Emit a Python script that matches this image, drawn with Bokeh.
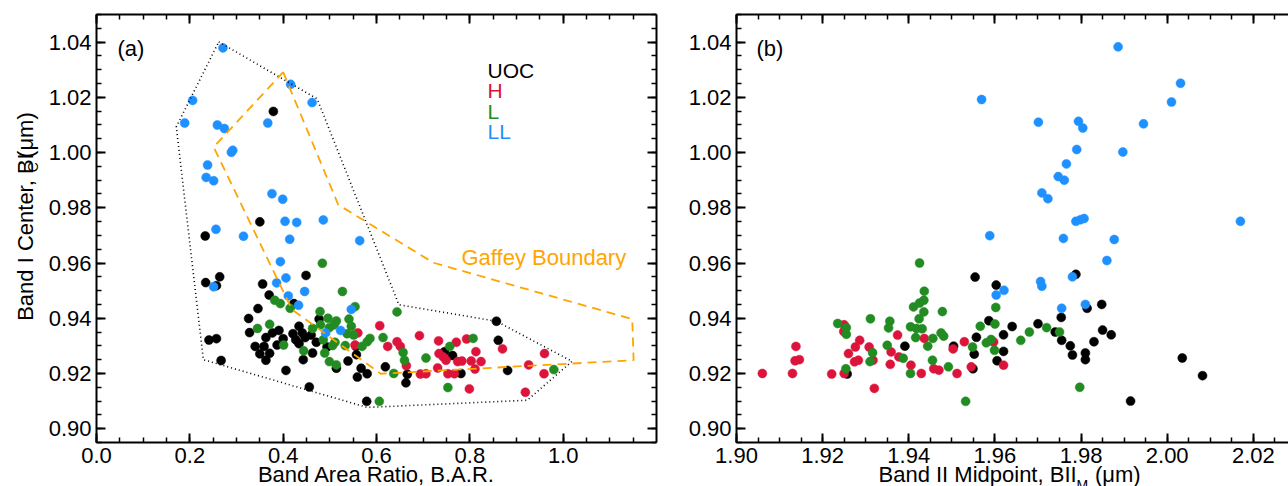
import math
from bokeh.plotting import figure
from bokeh.models import Range1d, LinearAxis, SingleIntervalTicker, PrintfTickFormatter, Label, Title
from bokeh.layouts import row
from bokeh.embed import file_html
from bokeh.resources import INLINE

FONT = "Liberation Sans"
C_UOC, C_H, C_L, C_LL = "#000000", "#DC143C", "#228B22", "#1E90FF"
C_GAFFEY = "#FFA500"

# ---------------- Panel (a): Band Area Ratio vs Band I Center ----------------
a_uoc_bar = [0.379, 0.350, 0.233, 0.264, 0.234, 0.257, 0.449, 0.356, 0.370, 0.346,
             0.326, 0.328, 0.241, 0.257, 0.267, 0.406, 0.456, 0.579, 0.363, 0.377,
             0.391, 0.400, 0.387, 0.340, 0.359, 0.350, 0.371, 0.363, 0.421, 0.434,
             0.441, 0.427, 0.447, 0.434, 0.460, 0.471, 0.463, 0.443, 0.477, 0.494,
             0.514, 0.539, 0.556, 0.557, 0.567, 0.559, 0.580, 0.619, 0.666, 0.663,
             0.423, 0.857, 0.861, 0.881, 0.746, 0.763, 0.781]
a_uoc_bic = [1.0149, 0.9749, 0.9698, 0.9550, 0.9529, 0.9518, 0.9555, 0.9524, 0.9484, 0.9435,
             0.9399, 0.9348, 0.9321, 0.9326, 0.9247, 0.9211, 0.9151, 0.9099, 0.9330, 0.9347,
             0.9356, 0.9326, 0.9303, 0.9298, 0.9298, 0.9271, 0.9273, 0.9248, 0.9344, 0.9371,
             0.9347, 0.9322, 0.9330, 0.9308, 0.9339, 0.9313, 0.9274, 0.9250, 0.9397, 0.9296,
             0.9219, 0.9245, 0.9298, 0.9268, 0.9219, 0.9187, 0.9199, 0.9224, 0.9197, 0.9166,
             0.9453, 0.9389, 0.9320, 0.9211, 0.9279, 0.9265, 0.9200]

a_h_bar = [0.607, 0.692, 0.560, 0.554, 0.624, 0.644, 0.651, 0.664, 0.694, 0.706,
           0.733, 0.771, 0.793, 0.870, 0.960, 0.813, 0.734, 0.743, 0.749, 0.774,
           0.783, 0.803, 0.824, 0.731, 0.753, 0.767, 0.811, 0.926, 0.959, 0.799,
           0.919]
a_h_bic = [0.9373, 0.9337, 0.9347, 0.9303, 0.9298, 0.9315, 0.9298, 0.9228, 0.9198, 0.9199,
           0.9318, 0.9313, 0.9325, 0.9289, 0.9272, 0.9279, 0.9272, 0.9260, 0.9248, 0.9243,
           0.9245, 0.9245, 0.9243, 0.9220, 0.9199, 0.9199, 0.9216, 0.9231, 0.9199, 0.9144,
           0.9132]

a_l_bar = [0.484, 0.527, 0.554, 0.644, 0.382, 0.394, 0.415, 0.345, 0.371, 0.479,
           0.496, 0.514, 0.541, 0.463, 0.480, 0.499, 0.509, 0.546, 0.537, 0.551,
           0.486, 0.401, 0.444, 0.506, 0.511, 0.533, 0.489, 0.569, 0.580, 0.586,
           0.614, 0.499, 0.514, 0.657, 0.660, 0.706, 0.637, 0.606, 0.807, 0.757,
           0.980, 0.753]
a_l_bic = [0.9599, 0.9497, 0.9442, 0.9423, 0.9465, 0.9453, 0.9436, 0.9363, 0.9378, 0.9424,
           0.9400, 0.9390, 0.9397, 0.9363, 0.9376, 0.9366, 0.9376, 0.9371, 0.9344, 0.9339,
           0.9322, 0.9303, 0.9282, 0.9301, 0.9313, 0.9301, 0.9274, 0.9298, 0.9315, 0.9327,
           0.9330, 0.9243, 0.9231, 0.9276, 0.9248, 0.9256, 0.9200, 0.9099, 0.9327, 0.9298,
           0.9214, 0.9149]

a_ll_bar = [0.271, 0.206, 0.189, 0.259, 0.274, 0.367, 0.416, 0.462, 0.289, 0.292,
            0.238, 0.235, 0.251, 0.376, 0.399, 0.404, 0.429, 0.486, 0.256, 0.315,
            0.414, 0.564, 0.394, 0.406, 0.251, 0.386, 0.446, 0.411, 0.433, 0.546,
            0.491, 0.523]
a_ll_bic = [1.0379, 1.0189, 1.0107, 1.0100, 1.0087, 1.0107, 1.0247, 1.0181, 1.0001, 1.0008,
            0.9955, 0.9910, 0.9898, 0.9851, 0.9831, 0.9751, 0.9747, 0.9756, 0.9722, 0.9697,
            0.9686, 0.9681, 0.9605, 0.9546, 0.9514, 0.9528, 0.9497, 0.9481, 0.9447, 0.9432,
            0.9347, 0.9356]

# outline of the ordinary-chondrite field (dotted) and the Gaffey boundary (dashed)
field_bar = [0.262, 0.473, 0.648, 0.857, 1.019, 0.923, 0.580, 0.229, 0.171, 0.262]
field_bic = [1.0401, 1.0194, 0.9449, 0.9389, 0.9244, 0.9103, 0.9077, 0.9250, 1.0093, 1.0401]
gaffey_bar = [0.400, 0.518, 0.722, 1.148, 1.151, 0.609, 0.419, 0.251, 0.400]
gaffey_bic = [1.0291, 0.9811, 0.9601, 0.9397, 0.9248, 0.9199, 0.9431, 1.0020, 1.0291]

# ---------------- Panel (b): Band II Midpoint vs Band I Center ----------------
b_uoc_b2 = [1.9391, 1.9257, 1.9504, 1.9554, 1.9557, 1.9552, 1.9549, 1.9586, 1.9603, 1.9605,
            1.9788, 1.9754, 1.9814, 1.9848, 1.9620, 1.9640, 1.9620, 1.9700, 1.9740, 1.9755,
            1.9775, 1.9780, 1.9810, 1.9810, 1.9830, 1.9850, 1.9870, 2.0035, 2.0082, 1.9915]
b_uoc_bic = [0.9299, 0.9198, 0.9299, 0.9549, 0.9331, 0.9270, 0.9217, 0.9391, 0.9520, 0.9246,
             0.9559, 0.9403, 0.9436, 0.9450, 0.9340, 0.9370, 0.9280, 0.9380, 0.9350, 0.9320,
             0.9300, 0.9267, 0.9274, 0.9250, 0.9315, 0.9357, 0.9340, 0.9256, 0.9192, 0.9100]

b_h_b2 = [1.9060, 1.9130, 1.9138, 1.9136, 1.9146, 1.9221, 1.9250, 1.9250, 1.9249, 1.9260,
          1.9276, 1.9286, 1.9274, 1.9283, 1.9308, 1.9317, 1.9320, 1.9359, 1.9357, 1.9374,
          1.9377, 1.9405, 1.9429, 1.9436, 1.9458, 1.9470, 1.9512, 1.9503, 1.9529, 1.9545,
          1.9597, 1.9620]
b_h_bic = [0.9200, 0.9200, 0.9298, 0.9246, 0.9250, 0.9198, 0.9200, 0.9376, 0.9352, 0.9272,
           0.9296, 0.9320, 0.9242, 0.9248, 0.9296, 0.9248, 0.9146, 0.9278, 0.9233, 0.9339,
           0.9260, 0.9230, 0.9200, 0.9327, 0.9217, 0.9212, 0.9200, 0.9289, 0.9315, 0.9224,
           0.9314, 0.9230]

b_l_b2 = [1.9235, 1.9255, 1.9255, 1.9254, 1.9311, 1.9316, 1.9310, 1.9356, 1.9353, 1.9350,
          1.9387, 1.9404, 1.9411, 1.9425, 1.9435, 1.9436, 1.9425, 1.9435, 1.9424, 1.9404,
          1.9418, 1.9431, 1.9416, 1.9444, 1.9456, 1.9455, 1.9478, 1.9475, 1.9481, 1.9492,
          1.9532, 1.9548, 1.9566, 1.9580, 1.9591, 1.9599, 1.9602, 1.9600, 1.9797, 1.9720,
          1.9750, 1.9660, 1.9680]
b_l_bic = [0.9381, 0.9366, 0.9342, 0.9217, 0.9398, 0.9275, 0.9243, 0.9389, 0.9365, 0.9302,
           0.9255, 0.9200, 0.9441, 0.9455, 0.9465, 0.9498, 0.9600, 0.9423, 0.9398, 0.9369,
           0.9363, 0.9362, 0.9330, 0.9299, 0.9327, 0.9248, 0.9424, 0.9347, 0.9335, 0.9224,
           0.9099, 0.9296, 0.9371, 0.9311, 0.9323, 0.9284, 0.9439, 0.9379, 0.9150, 0.9366,
           0.9350, 0.9320, 0.9350]

b_ll_b2 = [1.9886, 2.0031, 2.0010, 1.9569, 1.9701, 1.9794, 1.9804, 1.9945, 1.9790, 1.9897,
           1.9766, 1.9747, 1.9761, 1.9709, 1.9723, 1.9788, 1.9799, 1.9807, 2.0170, 1.9588,
           1.9759, 1.9877, 1.9860, 1.9706, 1.9709, 1.9780, 1.9621, 1.9603, 1.9755, 1.9810]
b_ll_bic = [1.0383, 1.0251, 1.0183, 1.0192, 1.0110, 1.0113, 1.0089, 1.0104, 1.0011, 1.0002,
            0.9959, 0.9913, 0.9900, 0.9854, 0.9833, 0.9751, 0.9757, 0.9761, 0.9751, 0.9699,
            0.9689, 0.9685, 0.9609, 0.9533, 0.9516, 0.9550, 0.9501, 0.9484, 0.9436, 0.9450]

legend_names = ["UOC", "H", "L", "LL"]
legend_colors = [C_UOC, C_H, C_L, C_LL]

# ---------------- layout geometry (pixels) ----------------
H = 486
YT_W = 40                    # left strip holding the rotated y-axis title
TOP, FRAME_H = 14, 428
YR = (0.895, 1.05)
A_W, A_LEFT, A_FRAME_W = 640, 56, 560       # frame starts at 40 + 56 = 96 on the page
B_W, B_LEFT, B_FRAME_W = 608, 56, 552       # page x 680 .. 1288
B_PX_PER_UNIT = 4307.0
B_XR = (1.90, 1.90 + B_FRAME_W / B_PX_PER_UNIT)
A_XR = (0.0, 1.2)
A_PAGE_LEFT = YT_W + A_LEFT
B_PAGE_X = YT_W + A_W
B_FRAME_PAGE_LEFT = B_PAGE_X + B_LEFT

AW = {' ': .278, '\u00a0': .278, 'B': .667, 'a': .556, 'n': .556, 'd': .556, 'I': .278,
      'C': .722, 'e': .556, 't': .278, 'r': .333, ',': .278, '(': .333, ')': .333,
      'μ': .576, 'm': .833, 'M': .833, 'i': .222, 'p': .556, 'o': .556}
MID = 0.3455                 # baseline-to-centre distance of Liberation Sans, in em


def tw(s, fs):
    return sum(AW.get(c, .556) for c in s) * fs


def ydata(py):
    return YR[1] - (py - TOP) / FRAME_H * (YR[1] - YR[0])


def xa(px):  # page px -> panel (a) data
    return A_XR[0] + (px - A_PAGE_LEFT) / A_FRAME_W * (A_XR[1] - A_XR[0])


def xb(px):  # page px -> panel (b) data
    return B_XR[0] + (px - B_FRAME_PAGE_LEFT) / B_PX_PER_UNIT


def style_axis(ax, interval, fmt=None, labels=True):
    ax.ticker = SingleIntervalTicker(interval=interval, num_minor_ticks=4)
    ax.axis_line_width = 2
    ax.axis_line_color = "black"
    ax.major_tick_in = 9
    ax.major_tick_out = 0
    ax.minor_tick_in = 5
    ax.minor_tick_out = 0
    ax.major_tick_line_width = 2
    ax.minor_tick_line_width = 1.5
    ax.axis_label = None
    if labels:
        ax.formatter = PrintfTickFormatter(format=fmt)
        ax.major_label_text_font = FONT
        ax.major_label_text_font_size = "22px"
        ax.major_label_text_color = "black"
        ax.major_label_standoff = 5
    else:
        ax.major_label_text_font_size = "0px"
        ax.major_label_text_color = None
        ax.major_label_standoff = 0


def make_fig(width, left, right, xr, xint, xfmt, right_axis):
    p = figure(width=width, height=H, x_range=Range1d(*xr), y_range=Range1d(*YR),
               output_backend="svg", toolbar_location=None,
               min_border_left=left, min_border_right=right,
               min_border_top=TOP, min_border_bottom=H - TOP - FRAME_H)
    p.outline_line_color = None
    p.xgrid.visible = False
    p.ygrid.visible = False
    p.background_fill_color = "white"
    p.border_fill_color = "white"
    style_axis(p.xaxis[0], xint, xfmt, True)
    style_axis(p.yaxis[0], 0.02, "%.2f", True)
    top = LinearAxis()
    style_axis(top, xint, labels=False)
    p.add_layout(top, "above")
    if right_axis:
        r = LinearAxis()
        style_axis(r, 0.02, labels=False)
        p.add_layout(r, "right")
    return p


def text_strip(w, h):
    """A bare figure whose whole area is its frame; 1 data unit = 1 px, y measured up."""
    p = figure(width=w, height=h, x_range=Range1d(0, w), y_range=Range1d(0, h),
               x_axis_location=None, y_axis_location=None, output_backend="svg",
               toolbar_location=None, min_border=0)
    p.outline_line_color = None
    p.grid.visible = False
    p.background_fill_color = "white"
    p.border_fill_color = "white"
    return p


def lbl(p, x, y, text, fs, color="black", align="left", baseline="middle", angle=0.0):
    p.add_layout(Label(x=x, y=y, text=text, text_font=FONT, text_font_size=f"{fs}px",
                       text_color=color, text_align=align, text_baseline=baseline,
                       angle=angle))


def side_title(p, side, text, fs, align, valign, standoff, offset=0):
    p.add_layout(Title(text=text, align=align, vertical_align=valign, standoff=standoff,
                       offset=offset, text_font=FONT, text_font_size=f"{fs}px",
                       text_font_style="normal", text_color="black"), side)


DOT = 9
NB3 = "\u00a0\u00a0\u00a0"

# ---------------- panel (a) ----------------
pa = make_fig(A_W, A_LEFT, A_W - A_LEFT - A_FRAME_W, A_XR, 0.2, "%.1f", True)
for xs, ys, c in [(a_uoc_bar, a_uoc_bic, C_UOC), (a_h_bar, a_h_bic, C_H),
                  (a_l_bar, a_l_bic, C_L), (a_ll_bar, a_ll_bic, C_LL)]:
    assert len(xs) == len(ys)
    pa.scatter(xs, ys, size=DOT, fill_color=c, line_color=c, line_width=0.5)
pa.line(field_bar, field_bic, line_color="black", line_width=1.6, line_dash="1 3")
pa.line(gaffey_bar, gaffey_bic, line_color=C_GAFFEY, line_width=1.8, line_dash="9 6")

lbl(pa, xa(117), ydata(48), "(a)", 22)
lbl(pa, xa(461), ydata(257), "Gaffey Boundary", 22, color=C_GAFFEY)
for i, (name, col) in enumerate(zip(legend_names, legend_colors)):
    lbl(pa, xa(487), ydata(70 + 20.3 * i), name, 21, color=col)

side_title(pa, "below", "Band Area Ratio, B.A.R.", 22, "center", "middle", -10)

# ---------------- panel (b) ----------------
pb = make_fig(B_W, B_LEFT, 0, B_XR, 0.02, "%.2f", False)
for xs, ys, c in [(b_uoc_b2, b_uoc_bic, C_UOC), (b_h_b2, b_h_bic, C_H),
                  (b_l_b2, b_l_bic, C_L), (b_ll_b2, b_ll_bic, C_LL)]:
    assert len(xs) == len(ys)
    pb.scatter(xs, ys, size=DOT, fill_color=c, line_color=c, line_width=0.5)
lbl(pb, xb(756), ydata(48), "(b)", 22)

xm1 = "Band II Midpoint, BII"
xmain = xm1 + NB3 + "(μm)"
xtot = tw(xmain, 22)
x0 = 1014 - B_FRAME_PAGE_LEFT - xtot / 2     # title start, px from frame left
side_title(pb, "below", xmain, 22, "left", "middle", -10, offset=int(round(x0 - 5)))
side_title(pb, "below", "M", 14, "left", "middle", -14, offset=int(round(x0 + tw(xm1, 22) - 5)))

# ---------------- y-axis title strip (rotated, with subscript C) ----------------
ys_fig = text_strip(YT_W, H)
y1, y2, y3 = "Band I Center, BI", "C", "(μm)"
w1, w2, wsp = tw(y1, 22), tw(y2, 14), tw(" ", 22)
ytot = w1 + w2 + wsp + tw(y3, 22)
ystart = 232.5 + ytot / 2            # page px of the lower end of the title
BASE_X = 33                          # page x of the rotated baseline
cx_main = BASE_X - MID * 22          # rotated text: its centre lies left of the baseline
cx_sub = BASE_X + 4 - MID * 14
lbl(ys_fig, cx_main, H - ystart, y1, 22, angle=math.pi / 2)
lbl(ys_fig, cx_sub, H - (ystart - w1), y2, 14, angle=math.pi / 2)
lbl(ys_fig, cx_main, H - (ystart - w1 - w2 - wsp), y3, 22, angle=math.pi / 2)

layout = row(ys_fig, pa, pb)
open("out.html", "w").write(file_html(layout, INLINE))
